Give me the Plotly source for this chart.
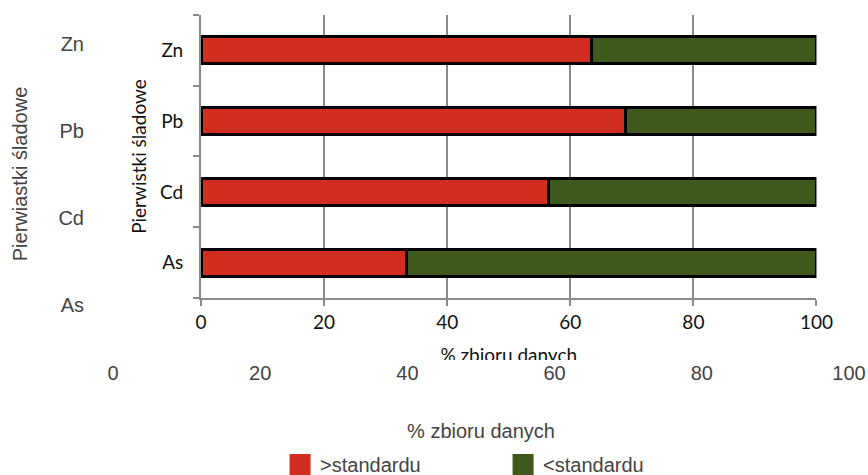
import plotly.graph_objects as go

# Trace elements and share (%) of samples above / below the standard
elements = ["As", "Cd", "Pb", "Zn"]
above_standard = [33.4, 56.4, 69.0, 63.4]
below_standard = [66.6, 43.6, 31.0, 36.6]
x_ticks = [0, 20, 40, 60, 80, 100]

series_names = [">standardu", "<standardu"]
red = "#D12E20"
green = "#3F581B"
grid_grey = "#8A8A8A"

outer_font = dict(family="Arial, Liberation Sans, sans-serif", size=20, color="#444444")
inner_font = dict(family="Lato, Calibri, sans-serif", size=19, color="#111111")

fig = go.Figure()

# Inner stacked bar chart
for name, vals, col in [(series_names[0], above_standard, red),
                        (series_names[1], below_standard, green)]:
    fig.add_trace(go.Bar(
        x=vals, y=elements, orientation="h", name=name,
        marker=dict(color=col, line=dict(color="#000000", width=3)),
        width=0.38, xaxis="x2", yaxis="y2", showlegend=False,
        hoverinfo="x+y",
    ))

# Legend entries (outer chart)
for name, col in [(series_names[0], red), (series_names[1], green)]:
    fig.add_trace(go.Scatter(
        x=[None], y=[None], mode="markers", name=name,
        marker=dict(symbol="square", size=16, color=col,
                    line=dict(color=col, width=5)),
        xaxis="x", yaxis="y",
    ))

fig.update_layout(
    width=868, height=475,
    margin=dict(l=113, r=19, t=0, b=127, autoexpand=False),
    paper_bgcolor="white", plot_bgcolor="white",
    barmode="stack",
    font=outer_font,
    showlegend=True,
    legend=dict(orientation="h", x=0.227, xanchor="left", y=-0.3348, yanchor="middle",
                traceorder="normal",
                font=outer_font, entrywidth=178, bgcolor="rgba(0,0,0,0)"),
    xaxis=dict(
        range=[0, 100], tickvals=x_ticks, ticktext=[str(v) for v in x_ticks],
        showgrid=False, zeroline=False, showline=False, ticks="",
        ticklabelstandoff=11, tickfont=outer_font,
        title=dict(text="% zbioru danych", font=outer_font, standoff=40),
        fixedrange=True,
    ),
    yaxis=dict(
        range=[-0.5, 3.5], tickvals=list(range(len(elements))), ticktext=elements,
        showgrid=False, zeroline=False, showline=False, ticks="",
        ticklabelstandoff=28, tickfont=outer_font,
        title=dict(text="Pierwiastki śladowe", font=outer_font, standoff=25),
        fixedrange=True,
    ),
    xaxis2=dict(
        domain=[0.1196, 0.9558], anchor="y2", range=[0, 100],
        tickvals=x_ticks, showgrid=True, gridcolor=grid_grey, gridwidth=2,
        zeroline=False, showline=True, linecolor=grid_grey, linewidth=2,
        ticks="outside", ticklen=6, tickwidth=2, tickcolor=grid_grey,
        ticklabelstandoff=0, tickfont=inner_font,
        title=dict(text="% zbioru danych", font=inner_font, standoff=17),
        fixedrange=True,
    ),
    yaxis2=dict(
        domain=[0.1437, 0.9569], anchor="x2", type="category",
        categoryorder="array", categoryarray=elements,
        showgrid=False, zeroline=False, showline=True, linecolor=grid_grey, linewidth=2,
        ticks="outside", ticklen=6, tickwidth=2, tickcolor=grid_grey,
        tickson="boundaries", ticklabelstandoff=12, tickfont=inner_font,
        title=dict(text="Pierwistki śladowe", font=inner_font, standoff=8),
        fixedrange=True,
    ),
)

# The inner chart's bottom edge trims its x-axis title
fig.add_annotation(
    xref="paper", yref="paper", x=0.5318, y=-0.0345, xanchor="center", yanchor="top",
    text=" ", showarrow=False, width=180, height=5, bgcolor="white",
    borderpad=0, borderwidth=0,
)

fig.write_html("out.html")
